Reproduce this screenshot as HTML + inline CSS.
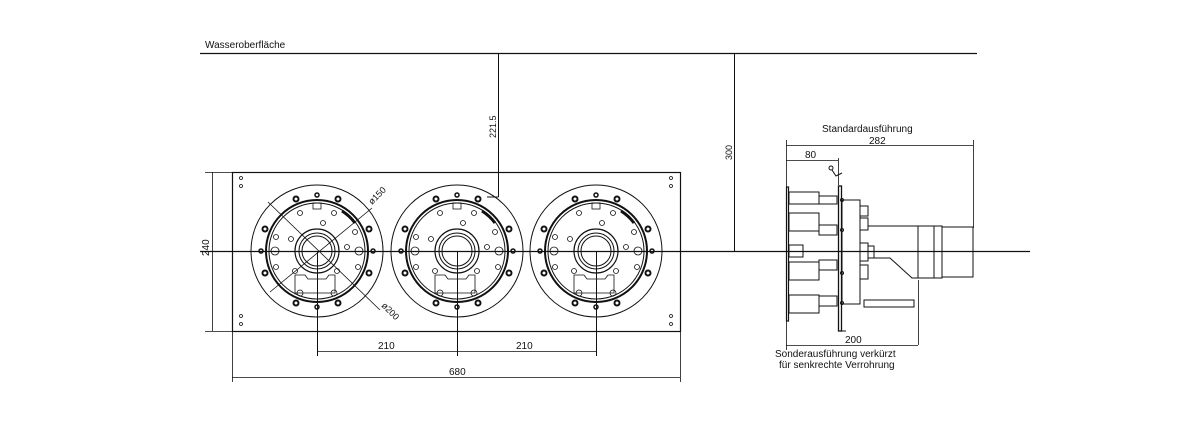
<!DOCTYPE html>
<html><head><meta charset="utf-8"><style>
html,body{margin:0;padding:0;background:#fff;}
svg{display:block;font-family:"Liberation Sans",sans-serif;}
text{font-size:10px;fill:#111;}
</style></head><body>
<svg width="1180" height="430" viewBox="0 0 1180 430" xmlns="http://www.w3.org/2000/svg">
<defs>
<g id="fl" stroke="#111" fill="none">
  <circle r="66" stroke-width="1"/>
  <circle r="51" stroke-width="2"/>
  <circle r="48" stroke-width="1"/>
  <circle r="22" stroke-width="1.2"/>
  <circle r="18" stroke-width="1"/>
  <circle r="15" stroke-width="1"/>
  <g stroke-width="2">
    <circle cx="-21" cy="-52" r="2.5"/><circle cx="21" cy="-52" r="2.5"/>
    <circle cx="-52" cy="-22" r="2.5"/><circle cx="52" cy="-22" r="2.5"/>
    <circle cx="-52" cy="22" r="2.5"/><circle cx="52" cy="22" r="2.5"/>
    <circle cx="-21" cy="52" r="2.5"/><circle cx="21" cy="52" r="2.5"/>
  </g>
  <g stroke-width="1.5">
    <circle cx="-56" cy="0" r="2"/><circle cx="56" cy="0" r="2"/>
    <circle cx="0" cy="-56" r="2"/><circle cx="0" cy="56" r="2"/>
  </g>
  <g stroke-width="0.8">
    <circle cx="-17" cy="-38" r="2.5"/><circle cx="17" cy="-38" r="2.5"/>
    <circle cx="-41" cy="-14" r="2.5"/><circle cx="38" cy="-19" r="2.5"/>
    <circle cx="-26" cy="-12" r="2.5"/><circle cx="6" cy="-28" r="2.5"/>
    <circle cx="-41" cy="16" r="2.5"/><circle cx="41" cy="16" r="2.5"/>
    <circle cx="-42" cy="0" r="4"/><circle cx="42" cy="0" r="4"/>
    <circle cx="30" cy="-4" r="2.5"/><circle cx="-22" cy="20" r="2.5"/>
    <circle cx="20" cy="20" r="2.5"/>
    <circle cx="-17" cy="42" r="3"/><circle cx="17" cy="42" r="3"/>
    <rect x="-4" y="-48" width="8" height="6"/>
    <path d="M-22 24 h10 l3 4 h18 l3 -4 h6 v18 h-40 z"/>
  </g>
  <path d="M25 -40 A47 47 0 0 1 38 -28" stroke-width="3"/>
</g>
</defs>

<!-- water surface -->
<text x="205" y="48">Wasseroberfläche</text>
<line x1="200" y1="53.5" x2="977" y2="53.5" stroke="#111" stroke-width="1.3"/>
<line x1="498.5" y1="53" x2="498.5" y2="197" stroke="#111" stroke-width="1"/>
<line x1="498.5" y1="197" x2="487" y2="197" stroke="#111" stroke-width="1"/>
<text transform="translate(496,138) rotate(-90)" style="font-size:9px">221.5</text>
<line x1="734.5" y1="53" x2="734.5" y2="251" stroke="#111" stroke-width="1"/>
<text transform="translate(732,160) rotate(-90)" style="font-size:9px">300</text>

<!-- plate -->
<rect x="232.5" y="172.5" width="448" height="159" fill="none" stroke="#111" stroke-width="1.2"/>
<g fill="none" stroke="#111" stroke-width="0.8">
<circle cx="241" cy="178" r="1.5"/><circle cx="241" cy="186" r="1.5"/>
<circle cx="241" cy="316" r="1.5"/><circle cx="241" cy="324" r="1.5"/>
<circle cx="671" cy="178" r="1.5"/><circle cx="671" cy="186" r="1.5"/>
<circle cx="671" cy="316" r="1.5"/><circle cx="671" cy="324" r="1.5"/>
</g>
<use href="#fl" x="317" y="251"/>
<use href="#fl" x="457" y="251"/>
<use href="#fl" x="596" y="251"/>

<!-- center line -->
<line x1="200" y1="251.5" x2="1030" y2="251.5" stroke="#111" stroke-width="1.2"/>
<line x1="317.5" y1="251" x2="317.5" y2="356" stroke="#111" stroke-width="1"/>
<line x1="457.5" y1="251" x2="457.5" y2="356" stroke="#111" stroke-width="1"/>
<line x1="596.5" y1="251" x2="596.5" y2="356" stroke="#111" stroke-width="1"/>
<!-- diameter leaders -->
<line x1="268" y1="202" x2="380" y2="310" stroke="#111" stroke-width="0.8"/>
<line x1="270" y1="292" x2="372" y2="208" stroke="#111" stroke-width="0.8"/>
<text transform="translate(372,205) rotate(-45)" style="font-size:9px">ø150</text>
<text transform="translate(381,306) rotate(45)" style="font-size:9px">ø200</text>

<!-- dims -->
<g stroke="#111" stroke-width="0.8" fill="none">
<line x1="205" y1="172.5" x2="232" y2="172.5"/><line x1="205" y1="331.5" x2="232" y2="331.5"/>
<line x1="212.5" y1="172" x2="212.5" y2="331"/>
<line x1="317" y1="351.5" x2="596" y2="351.5"/>
<line x1="232.5" y1="331" x2="232.5" y2="382"/><line x1="680.5" y1="331" x2="680.5" y2="382"/>
<line x1="232" y1="377.5" x2="680" y2="377.5"/>
</g>
<text transform="translate(209,256) rotate(-90)">240</text>
<text x="378" y="349">210</text><text x="516" y="349">210</text>
<text x="449" y="375">680</text>

<!-- side view -->
<text x="822" y="132">Standardausführung</text>
<text x="869" y="144">282</text>
<g stroke="#111" stroke-width="0.8" fill="none">
<line x1="786.5" y1="140" x2="786.5" y2="350"/>
<line x1="973.5" y1="140" x2="973.5" y2="228"/>
<line x1="786" y1="145.5" x2="973" y2="145.5"/>
<line x1="786" y1="160.5" x2="838" y2="160.5"/>
<line x1="838.5" y1="158" x2="838.5" y2="185"/>
<line x1="786" y1="345.5" x2="918" y2="345.5"/>
<line x1="918.5" y1="280" x2="918.5" y2="345"/>
</g>
<text x="805" y="158">80</text>
<text x="845" y="343">200</text>
<g stroke="#111" fill="none" stroke-width="1">
<rect x="786.5" y="187" width="2" height="134" stroke-width="1.2"/>
<rect x="789" y="192" width="30" height="12"/><rect x="789" y="213" width="30" height="18"/>
<rect x="789" y="262" width="30" height="18"/><rect x="789" y="295" width="30" height="18"/>
<rect x="819" y="196" width="18" height="8"/><rect x="819" y="225" width="18" height="10"/>
<rect x="819" y="260" width="18" height="10"/><rect x="819" y="296" width="18" height="10"/>
<rect x="789" y="245" width="14" height="12"/>
<rect x="838.5" y="186" width="3" height="145" stroke-width="1.3"/>
<line x1="841" y1="331" x2="846" y2="331"/>
<rect x="842" y="200" width="18" height="104"/>
<rect x="860" y="206" width="8" height="10"/><rect x="860" y="218" width="8" height="12"/>
<rect x="860" y="243" width="8" height="18"/><rect x="868" y="246" width="6" height="12"/>
<rect x="860" y="265" width="8" height="14"/>
<path d="M868 226 H918 M874 258 H890 L912 278 H918"/>
<line x1="918" y1="226" x2="918" y2="279" stroke-dasharray="6,3"/>
<rect x="918" y="226" width="16" height="52"/>
<rect x="934" y="226" width="8" height="52"/>
<rect x="942" y="227" width="31" height="50"/>
<rect x="864" y="300" width="50" height="7"/>
<circle cx="842" cy="200" r="1.5"/><circle cx="842" cy="230" r="1.5"/><circle cx="842" cy="273" r="1.5"/><circle cx="842" cy="303" r="1.5"/>
<circle cx="831" cy="168" r="2"/><path d="M832 170 l4 6 l6 -3"/>
</g>
<text x="775" y="357">Sonderausführung verkürzt</text>
<text x="779" y="368">für senkrechte Verrohrung</text>
</svg>
</body></html>
